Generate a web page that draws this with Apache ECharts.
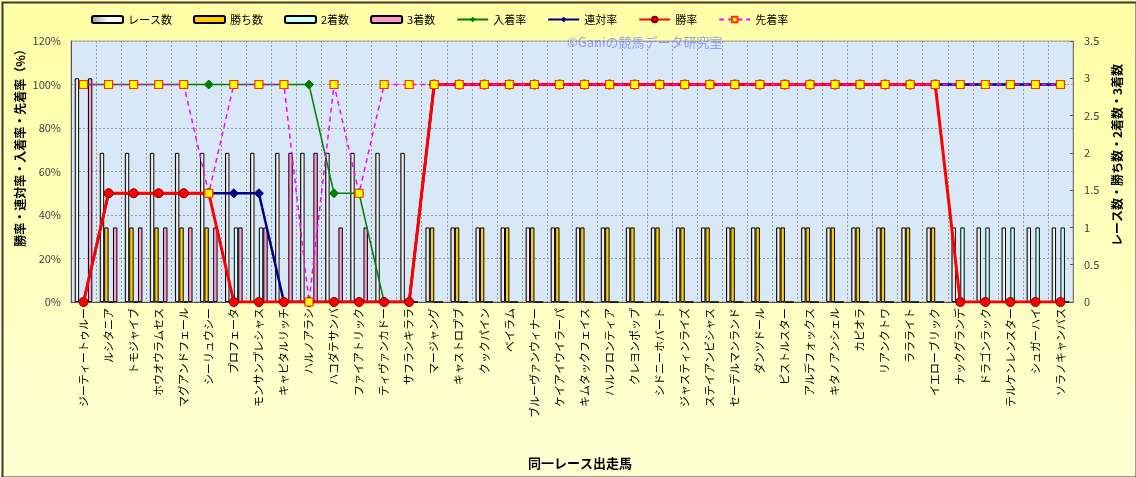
<!DOCTYPE html>
<html>
<head>
<meta charset="utf-8">
<script src="https://cdn.jsdelivr.net/npm/echarts@6/dist/echarts.min.js"></script>
<style>
html,body{margin:0;padding:0;background:#fff;}
#chart{width:1136px;height:477px;}
</style>
</head>
<body>
<div id="chart"></div>
<script>
var categories = ['ジーティートゥルー','ルシタニア','トモジャイブ','ホウオウラムセス','マグアンドフェール','シーリュウシー','プロフェータ','モンサンプレシャス','キャピタルリッチ','ハルノアラシ','ハコダテサンバ','ファイアトリック','ティヴァンカドー','サフランキララ','マージャング','キャストロプブ','クックパイン','ベイラム','ブルーヴァンウィナー','ケイアイウイラーパ','キムタックフェイス','ハルフロンティア','クレヨンポップ','シドニーホバート','ジャスティンライズ','ステイアンビシャス','セーデルマンランド','ダンツドール','ピストルスター','アルデフォックス','キタノアンシェル','カピオラ','リアンクトワ','ララライト','イエローブリック','ナックグランデ','ドラゴンラック','テルケンレンスター','シュガーハイ','ソラノキャンバス'];

var raceCount = [3,2,2,2,2,2,2,2,2,2,2,2,2,2,1,1,1,1,1,1,1,1,1,1,1,1,1,1,1,1,1,1,1,1,1,1,1,1,1,1];
var winCount  = [0,1,1,1,1,1,0,0,0,0,0,0,0,0,1,1,1,1,1,1,1,1,1,1,1,1,1,1,1,1,1,1,1,1,1,0,0,0,0,0];
var secondCount = [0,0,0,0,0,0,1,1,0,0,0,0,0,0,0,0,0,0,0,0,0,0,0,0,0,0,0,0,0,0,0,0,0,0,0,1,1,1,1,1];
var thirdCount  = [3,1,1,1,1,1,1,1,2,2,1,1,0,0,0,0,0,0,0,0,0,0,0,0,0,0,0,0,0,0,0,0,0,0,0,0,0,0,0,0];

var inRate      = [100,100,100,100,100,100,100,100,100,100,50,50,0,0,100,100,100,100,100,100,100,100,100,100,100,100,100,100,100,100,100,100,100,100,100,100,100,100,100,100];
var rentaiRate  = [0,50,50,50,50,50,50,50,0,0,0,0,0,0,100,100,100,100,100,100,100,100,100,100,100,100,100,100,100,100,100,100,100,100,100,100,100,100,100,100];
var winRate     = [0,50,50,50,50,50,0,0,0,0,0,0,0,0,100,100,100,100,100,100,100,100,100,100,100,100,100,100,100,100,100,100,100,100,100,0,0,0,0,0];
var senchakuRate= [100,100,100,100,100,50,100,100,100,0,100,50,100,100,100,100,100,100,100,100,100,100,100,100,100,100,100,100,100,100,100,100,100,100,100,100,100,100,100,100];

var leftTicks = {min:0, max:120, interval:20};
var rightTicks = {min:0, max:3.5, interval:0.5};

var FONT = '"Noto Sans CJK JP", "Noto Sans", sans-serif';
var chart = echarts.init(document.getElementById('chart'));

var raceFill = new echarts.graphic.LinearGradient(0,0,1,0,[
  {offset:0,color:'#9a9a9a'},{offset:0.5,color:'#f6f6f6'},{offset:1,color:'#ffffff'}
]);

var barCommon = {type:'bar', yAxisIndex:1, barWidth:4.4, barGap:'0%'};

chart.setOption({
  animation:false,
  backgroundColor: new echarts.graphic.LinearGradient(0,0,0,1,[
    {offset:0,color:'#FFFFA6'},{offset:1,color:'#FFFFD4'}
  ]),
  textStyle:{fontFamily:FONT},
  legend:{
    top:9, left:86, itemWidth:31, itemHeight:7, itemGap:21,
    textStyle:{fontSize:11, color:'#000', fontFamily:FONT},
    data:['レース数','勝ち数','2着数','3着数','入着率','連対率','勝率','先着率']
  },
  grid:{left:71, right:63, top:41, bottom:175, show:true, backgroundColor:'#D8E8F7', borderColor:'#aaaaaa', borderWidth:1},
  xAxis:{
    type:'category', data:categories, boundaryGap:true,
    axisLine:{lineStyle:{color:'#555', width:1}},
    axisTick:{show:false},
    axisLabel:{rotate:90, interval:0, fontSize:11, color:'#000', margin:6, fontFamily:FONT},
    splitLine:{show:true, interval:0, lineStyle:{color:'#9a9a9a', type:[2,2], width:1}}
  },
  yAxis:[
    {type:'value', min:leftTicks.min, max:leftTicks.max, interval:leftTicks.interval,
     axisLine:{show:true, lineStyle:{color:'#555'}}, axisTick:{show:false},
     axisLabel:{formatter:'{value}%', fontSize:11, color:'#404040', margin:10},
     splitLine:{show:true, lineStyle:{color:'#9a9a9a', type:[2,2]}}},
    {type:'value', min:rightTicks.min, max:rightTicks.max, interval:rightTicks.interval, position:'right',
     axisLine:{show:true, lineStyle:{color:'#777'}}, axisTick:{show:true, inside:true, length:3, lineStyle:{color:'#555'}},
     axisLabel:{fontSize:11, color:'#404040', margin:11},
     splitLine:{show:false}}
  ],
  graphic:[
    {type:'rect', left:0, top:0, shape:{x:1,y:1,width:1134,height:475}, style:{fill:'none', stroke:'#3a3a3a', lineWidth:2}, silent:true, z:100},
    {type:'text', x:20, y:145, rotation:Math.PI/2, style:{text:'勝率・連対率・入着率・先着率（%）', fontSize:12, fontWeight:'bold', fill:'#000', align:'center', verticalAlign:'middle', fontFamily:FONT}},
    {type:'text', x:1117, y:155, rotation:Math.PI/2, style:{text:'レース数・勝ち数・2着数・3着数', fontSize:12, fontWeight:'bold', fill:'#000', align:'center', verticalAlign:'middle', fontFamily:FONT}},
    {type:'text', x:580, y:463, style:{text:'同一レース出走馬', fontSize:13, fontWeight:'bold', fill:'#000', align:'center', verticalAlign:'middle', fontFamily:FONT}},
    {type:'text', x:567, y:42, z:50, style:{text:'©Ganiの競馬データ研究室', fontSize:13, fill:'rgba(125,125,245,0.75)', align:'left', verticalAlign:'middle', fontFamily:FONT}}
  ],
  series:[
    Object.assign({name:'レース数', data:raceCount, itemStyle:{color:raceFill, borderColor:'#000', borderWidth:1}}, barCommon),
    Object.assign({name:'勝ち数', data:winCount, itemStyle:{color:'#FFCC00', borderColor:'#000', borderWidth:1}}, barCommon),
    Object.assign({name:'2着数', data:secondCount, itemStyle:{color:'#CCFFFF', borderColor:'#000', borderWidth:1}}, barCommon),
    Object.assign({name:'3着数', data:thirdCount, itemStyle:{color:'#FF99CC', borderColor:'#000', borderWidth:1}}, barCommon),
    {name:'入着率', type:'line', yAxisIndex:0, data:inRate, symbol:'diamond', symbolSize:9,
     lineStyle:{color:'#008000', width:1.5}, itemStyle:{color:'#008000', borderColor:'#008000'}},
    {name:'連対率', type:'line', yAxisIndex:0, data:rentaiRate, symbol:'diamond', symbolSize:9,
     lineStyle:{color:'#000080', width:2.5}, itemStyle:{color:'#000080', borderColor:'#000080'}},
    {name:'勝率', type:'line', yAxisIndex:0, data:winRate, symbol:'circle', symbolSize:9,
     lineStyle:{color:'#FF0000', width:3}, itemStyle:{color:'#FF0000', borderColor:'#800000', borderWidth:1}},
    {name:'先着率', type:'line', yAxisIndex:0, data:senchakuRate, symbol:'rect', symbolSize:8,
     lineStyle:{color:'#FF00FF', width:1.5, type:[5,4]}, itemStyle:{color:'#FFFF00', borderColor:'#FF3300', borderWidth:1.2}}
  ]
});
</script>
</body>
</html>
